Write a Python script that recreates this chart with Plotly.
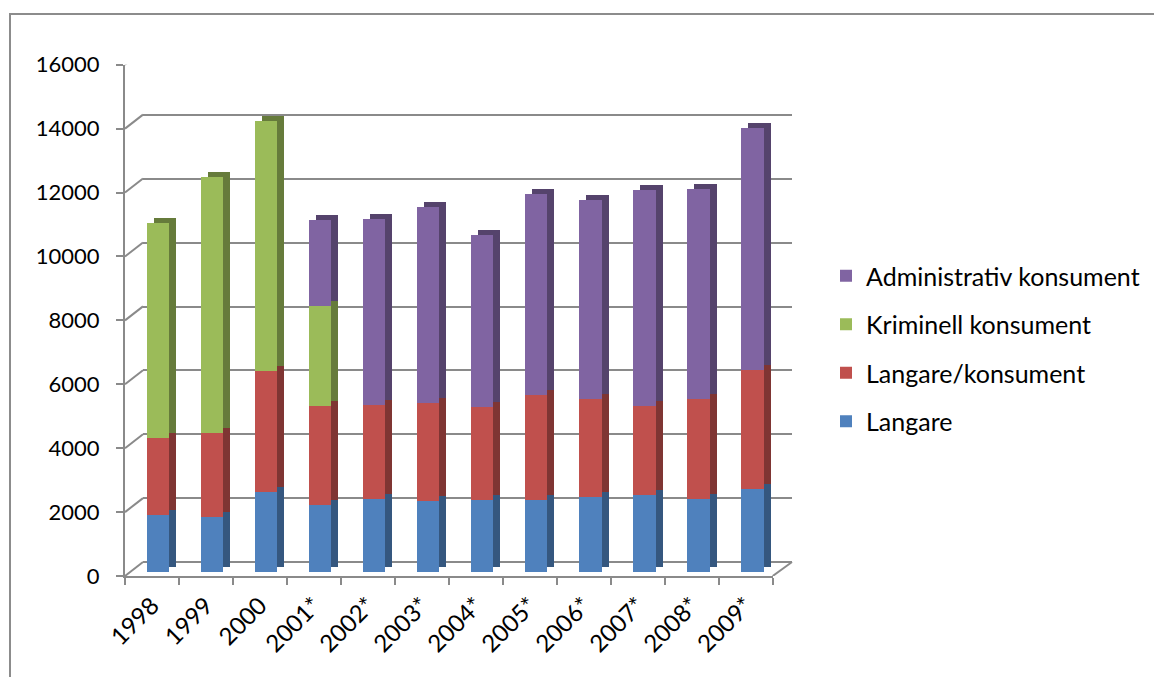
import plotly.graph_objects as go

W, H = 1154, 677

categories = ["1998", "1999", "2000", "2001*", "2002*", "2003*", "2004*",
              "2005*", "2006*", "2007*", "2008*", "2009*"]
langare = [1790, 1734, 2495, 2103, 2294, 2222, 2264, 2254, 2347, 2420, 2285, 2598]
langare_konsument = [2406, 2607, 3804, 3100, 2942, 3068, 2900, 3286, 3057, 2765, 3130, 3735]
kriminell_konsument = [6713, 8023, 7821, 3133, 0, 0, 0, 0, 0, 0, 0, 0]
administrativ_konsument = [0, 0, 0, 2685, 5807, 6124, 5373, 6302, 6229, 6761, 6562, 7573]

series_names = ["Langare", "Langare/konsument", "Kriminell konsument", "Administrativ konsument"]
series_values = [langare, langare_konsument, kriminell_konsument, administrativ_konsument]
front_colors = ["#4F81BD", "#C0504D", "#9BBB59", "#8064A2"]
side_colors = ["#35577F", "#7F3533", "#667B3B", "#55436C"]

y_ticks = list(range(0, 16001, 2000))
FONT = "Lato"
GRID = "#8a8a8a"


def px_x(p):
    return p / W


def px_y(p):
    return 1 - p / H


fig = go.Figure()

# back wall (gridlines only)
fig.add_trace(go.Scatter(x=categories, y=[None] * len(categories), xaxis="x", yaxis="y",
                         showlegend=False, hoverinfo="skip"))

# side / top faces (shifted copy of the stacks)
for name, vals, col in zip(series_names, series_values, side_colors):
    fig.add_trace(go.Bar(x=categories, y=vals, xaxis="x2", yaxis="y2", marker_color=col,
                         marker_line_width=0, showlegend=False, hoverinfo="skip"))

# front faces
n_series = len(series_names)
for i, (name, vals, col) in enumerate(zip(series_names, series_values, front_colors)):
    fig.add_trace(go.Bar(x=categories, y=vals, name=name, xaxis="x3", yaxis="y3",
                         marker_color=col, marker_line_width=0, legendgroup=name,
                         legendrank=n_series - i))

# front axes
fig.add_trace(go.Scatter(x=categories, y=[0] * len(categories), xaxis="x4", yaxis="y4",
                         mode="markers", marker_opacity=0, showlegend=False, hoverinfo="skip"))

cat_range = [-0.5, len(categories) - 0.5]
DX, DY = 7, 5  # 3D depth of bars in px

fig.update_layout(
    width=W, height=H, autosize=False,
    margin=dict(l=0, r=0, t=0, b=0, pad=0, autoexpand=False),
    paper_bgcolor="white", plot_bgcolor="rgba(0,0,0,0)",
    barmode="stack", bargap=0.59,
    font=dict(family=FONT, size=22, color="black"),
    showlegend=True,
    legend=dict(x=px_x(826), y=px_y(253), xanchor="left", yanchor="top",
                traceorder="grouped", tracegroupgap=13,
                font=dict(family=FONT, size=25, color="black"),
                bgcolor="rgba(0,0,0,0)"),
    # back wall
    xaxis=dict(domain=[px_x(143), px_x(792)], range=cat_range, type="category",
               showgrid=False, zeroline=False, showticklabels=False, ticks="", showline=False,
               automargin=False, anchor="y"),
    yaxis=dict(domain=[px_y(562.3), px_y(50.8)], range=[0, 16000], tickvals=y_ticks,
               showgrid=True, gridcolor=GRID, gridwidth=2, zeroline=True, zerolinecolor=GRID,
               zerolinewidth=2, showticklabels=False, ticks="", showline=False,
               automargin=False, anchor="x"),
    # shadow bars
    xaxis2=dict(domain=[px_x(131 + DX), px_x(779.6 + DX)], range=cat_range, type="category",
                visible=False, automargin=False, anchor="y2"),
    yaxis2=dict(domain=[px_y(572 - DY), px_y(60.8 - DY)], range=[0, 16000], visible=False,
                automargin=False, anchor="x2"),
    # front bars
    xaxis3=dict(domain=[px_x(131), px_x(779.6)], range=cat_range, type="category",
                visible=False, automargin=False, anchor="y3"),
    yaxis3=dict(domain=[px_y(572), px_y(60.8)], range=[0, 16000], visible=False,
                automargin=False, anchor="x3"),
    # front axes with labels
    xaxis4=dict(domain=[px_x(125), px_x(772.7)], range=cat_range, type="category",
                showgrid=False, zeroline=False, showline=True, linecolor=GRID, linewidth=2,
                ticks="outside", tickson="boundaries", ticklen=7, tickwidth=2, tickcolor=GRID,
                tickangle=-45, ticklabelstandoff=4,
                tickfont=dict(family=FONT, size=24, color="black"),
                automargin=False, anchor="y4"),
    yaxis4=dict(domain=[px_y(576), px_y(64.7)], range=[0, 16000], tickvals=y_ticks,
                tickformat="d",
                showgrid=False, zeroline=False, showline=True, linecolor=GRID, linewidth=2,
                ticks="outside", ticklen=7, tickwidth=2, tickcolor=GRID,
                ticklabelstandoff=12,
                tickfont=dict(family=FONT, size=22, color="black"),
                automargin=False, anchor="x4"),
)

shapes = []
# chart-area border (top and left edges visible)
shapes.append(dict(type="rect", xref="paper", yref="paper", x0=px_x(10), x1=1.05,
                   y0=-0.05, y1=px_y(14), line=dict(color="#8c8c8c", width=2)))
# side-wall diagonals at each value tick
for v in y_ticks:
    shapes.append(dict(type="line", xref="paper", yref="y4", ysizemode="pixel", yanchor=v,
                       x0=px_x(125), x1=px_x(143), y0=0, y1=14,
                       line=dict(color=GRID, width=2)))
# floor right edge
shapes.append(dict(type="line", xref="paper", yref="y4", ysizemode="pixel", yanchor=0,
                   x0=px_x(772.7), x1=px_x(792), y0=0, y1=14,
                   line=dict(color=GRID, width=2)))
fig.update_layout(shapes=shapes)

fig.write_html("out.html")
